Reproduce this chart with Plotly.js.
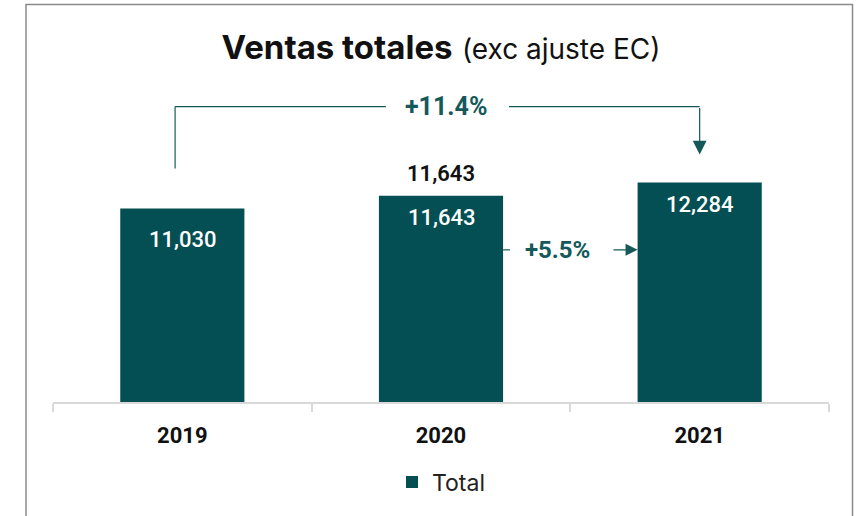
<!DOCTYPE html>
<html>
<head>
<meta charset="utf-8">
<script src="https://cdn.plot.ly/plotly-3.0.1.min.js"></script>
<style>
  html, body { margin: 0; padding: 0; background: #ffffff; }
  #chart { width: 861px; height: 516px; }
</style>
</head>
<body>
<div id="chart"></div>
<script>
// ---- data ----
const years = ['2019', '2020', '2021'];
const totals = [11030, 11643, 12284];
const seriesName = 'Total';
const titleMain = 'Ventas totales';
const titleSub = '(exc ajuste EC)';
const growth19to21 = '+11.4%';
const growth20to21 = '+5.5%';
const extraLabelIndex = 1;           // the bar with the extra black label above it

// ---- style ----
const barColor = '#034f53';
const accent = '#15595a';
const axisGray = '#d9d9d9';
const numFont = 'Roboto, "Noto Sans", sans-serif';
const txtFont = 'Inter, "Noto Sans", sans-serif';

// layout geometry
const M = {l: 53, r: 32, t: 90, b: 114};
const plotH = 516 - M.t - M.b;
const yMin = 1700, yMax = 16750;
const pxPerUnit = plotH / (yMax - yMin);
const px = p => p / pxPerUnit;          // pixels -> data units
const fmt = v => v.toLocaleString('en-US');

const trace = {
  type: 'bar',
  x: years,
  y: totals,
  name: seriesName,
  marker: {color: barColor},
  hoverinfo: 'skip'
};

// label offsets below bar top (px)
const insideOffsets = [31, 22, 22];
const annotations = years.map((yr, i) => ({
  x: i, y: totals[i], xref: 'x', yref: 'y',
  text: fmt(totals[i]), showarrow: false,
  yanchor: 'middle', yshift: -insideOffsets[i],
  font: {family: numFont, size: 22, color: '#ffffff', weight: 500}
}));
annotations.push({
  x: extraLabelIndex, y: totals[extraLabelIndex], xref: 'x', yref: 'y',
  text: fmt(totals[extraLabelIndex]), showarrow: false,
  yanchor: 'middle', yshift: 22,
  font: {family: numFont, size: 22, color: '#111111', weight: 600}
});

// bracket geometry
const topY = totals[2] + px(76);           // horizontal bracket line
const leftBottom = totals[0] + px(40);
const tipY = totals[2] + px(28);
const rowY = totals[1] - px(54);           // +5.5% row

annotations.push({
  x: 1.02, y: topY, xref: 'x', yref: 'y', text: '<b>' + growth19to21 + '</b>',
  showarrow: false, yanchor: 'middle',
  font: {family: numFont, size: 25, color: accent}
});
annotations.push({
  x: 2, y: tipY, xref: 'x', yref: 'y', ax: 2, ay: topY, axref: 'x', ayref: 'y',
  text: '', showarrow: true, arrowhead: 2, arrowsize: 2.3, arrowwidth: 1.2,
  arrowcolor: accent
});
annotations.push({
  x: 1.452, y: rowY, xref: 'x', yref: 'y', text: '<b>' + growth20to21 + '</b>',
  showarrow: false, yanchor: 'middle',
  font: {family: numFont, size: 24, color: accent}
});
annotations.push({
  x: 1.76, y: rowY, xref: 'x', yref: 'y', ax: 1.661, ay: rowY, axref: 'x', ayref: 'y',
  text: '', showarrow: true, arrowhead: 2, arrowsize: 2.0, arrowwidth: 1.2,
  arrowcolor: accent
});

const lineStyle = {color: accent, width: 1.2};
const shapes = [
  {type: 'line', xref: 'x', yref: 'y', x0: -0.028, x1: -0.028, y0: leftBottom, y1: topY, line: lineStyle},
  {type: 'line', xref: 'x', yref: 'y', x0: -0.028, x1: 0.787, y0: topY, y1: topY, line: lineStyle},
  {type: 'line', xref: 'x', yref: 'y', x0: 1.263, x1: 2, y0: topY, y1: topY, line: lineStyle},
  {type: 'line', xref: 'x', yref: 'y', x0: 1.24, x1: 1.267, y0: rowY, y1: rowY, line: lineStyle},
  // outer frame
  {type: 'rect', xref: 'paper', yref: 'paper', x0: -0.0348, x1: 1.0303, y0: -0.45, y1: 1.274,
   line: {color: '#8a8a8a', width: 1.5}, fillcolor: 'rgba(0,0,0,0)', layer: 'below'}
];

const layout = {
  width: 861, height: 516,
  margin: M,
  paper_bgcolor: '#ffffff', plot_bgcolor: '#ffffff',
  bargap: 0.52,
  showlegend: true,
  title: {
    text: '<b>' + titleMain + '</b> <span style="font-size:28px">' + titleSub + '</span>',
    font: {family: txtFont, size: 33, color: '#111111'},
    x: 0.5, xref: 'paper', xanchor: 'center',
    y: 1 - 47 / 516, yref: 'container', yanchor: 'middle'
  },
  xaxis: {
    type: 'category',
    showline: true, linecolor: axisGray, linewidth: 2,
    ticks: 'outside', tickson: 'boundaries', ticklen: 8, tickcolor: axisGray, tickwidth: 2,
    showgrid: false, zeroline: false,
    tickfont: {family: numFont, size: 22, color: '#111111', weight: 'bold'},
    ticklabelstandoff: 13,
    fixedrange: true
  },
  yaxis: {
    range: [yMin, yMax], visible: false, showgrid: false, zeroline: false, fixedrange: true
  },
  legend: {
    orientation: 'h', x: 0.5, xanchor: 'center', y: (402 - 482) / plotH, yanchor: 'middle',
    font: {family: txtFont, size: 23, color: '#222222'},
    itemwidth: 30
  },
  annotations: annotations,
  shapes: shapes
};

Plotly.newPlot('chart', [trace], layout, {displayModeBar: false, staticPlot: true});
</script>
</body>
</html>
